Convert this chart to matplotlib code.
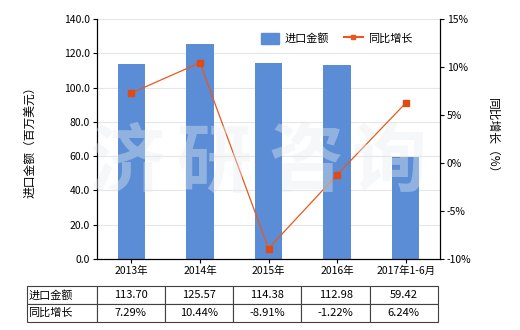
import numpy as np
import matplotlib
matplotlib.use('Agg')
import matplotlib.pyplot as plt
from matplotlib.lines import Line2D
from matplotlib.patches import Patch

plt.rcParams['font.family'] = ['Noto Sans CJK SC', 'DejaVu Sans']
plt.rcParams['font.size'] = 7.5

# 数据
categories = ['2013年', '2014年', '2015年', '2016年', '2017年1-6月']
amount = [113.70, 125.57, 114.38, 112.98, 59.42]
growth = [7.29, 10.44, -8.91, -1.22, 6.24]
amount_labels = ['113.70', '125.57', '114.38', '112.98', '59.42']
growth_labels = ['7.29%', '10.44%', '-8.91%', '-1.22%', '6.24%']

bar_color = '#5a8dd6'
line_color = '#e8581c'

fig = plt.figure(figsize=(5.2, 3.3), dpi=100)
ax1 = fig.add_axes([97 / 520, 1 - 259 / 330, 343 / 520, 240 / 330])

x = np.arange(len(categories))
ax1.bar(x, amount, width=0.4, color=bar_color, zorder=2)
ax1.set_xlim(-0.5, len(categories) - 0.5)
ax1.set_ylim(0, 140)
ax1.set_yticks(np.arange(0, 141, 20))
ax1.set_yticklabels(['%.1f' % v for v in np.arange(0, 141, 20)])
ax1.set_xticks(x)
ax1.set_xticklabels(categories)
ax1.grid(axis='y', color='#e6e6e6', linewidth=0.8, zorder=0)
ax1.set_axisbelow(True)
ax1.spines['top'].set_visible(False)
ax1.tick_params(axis='both', length=3, width=0.8, pad=2)
ax1.set_ylabel('进口金额（百万美元）', fontsize=8.5, labelpad=20)

# 同比增长曲线
ax2 = ax1.twinx()
ax2.plot(x, growth, color=line_color, linewidth=0.9, marker='s', markersize=5,
         markerfacecolor='#e04a14', markeredgecolor='#e04a14', zorder=3)
ax2.set_ylim(-10, 15)
ax2.set_yticks(np.arange(-10, 16, 5))
ax2.set_yticklabels(['%d%%' % v for v in np.arange(-10, 16, 5)])
ax2.spines['top'].set_visible(False)
ax2.tick_params(axis='y', length=3, width=0.8, pad=2)
ax2.set_ylabel('同比增长（%）', fontsize=8.5, rotation=-90, labelpad=20)

# 水印
for ch, px in zip('济研咨询', [127, 214, 306, 389]):
    fig.text(px / 520, 0.505, ch, fontsize=54, color='#e6ebee', alpha=0.4,
             ha='center', va='center', fontweight='bold', zorder=10)

# 图例
handles = [Patch(color=bar_color, label='进口金额'),
           Line2D([0], [0], color=line_color, marker='s', markersize=3,
                  linewidth=1.5, label='同比增长')]
ax2.legend(handles=handles, loc='upper right', ncol=2, frameon=False,
           bbox_to_anchor=(0.95, 0.985), handlelength=1.7, handleheight=1.2,
           handletextpad=0.5, columnspacing=1.3, fontsize=8)

# 数据表
tax = fig.add_axes([26.7 / 520, 1 - 322 / 330, (438 - 26.7) / 520, 36 / 330])
tax.axis('off')
cell_text = [['进口金额'] + amount_labels, ['同比增长'] + growth_labels]
tbl = tax.table(cellText=cell_text, bbox=[0, 0, 1, 1], cellLoc='center',
                colWidths=[70] + [68.3] * 5)
tbl.auto_set_font_size(False)
tbl.set_fontsize(8)
for (r, c), cell in tbl.get_celld().items():
    cell.set_edgecolor('#404040')
    cell.set_linewidth(0.8)
    if c == 0:
        cell.get_text().set_ha('left')
        cell.PAD = 0.02

fig.savefig('out.png', dpi=100)
